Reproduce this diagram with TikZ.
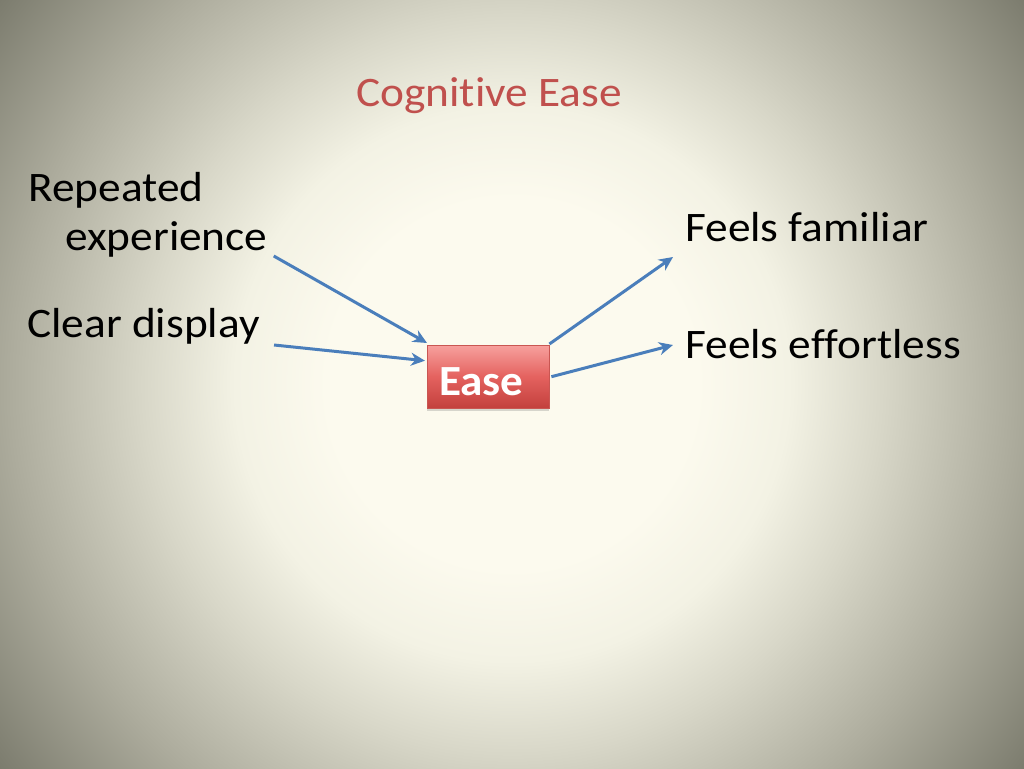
\documentclass[tikz,border=0pt]{standalone}
\usepackage{fontspec}
\setmainfont[Ligatures=NoCommon]{Carlito}
\usetikzlibrary{arrows.meta,calc,shadows}
\definecolor{bgc}{HTML}{FCFAEE}
\definecolor{bgb}{HTML}{F3F2E4}
\definecolor{bgm}{HTML}{D8D7C8}
\definecolor{bgn}{HTML}{ADAC9D}
\definecolor{bge}{HTML}{7C7C6E}
\definecolor{titlered}{HTML}{C0504D}
\definecolor{arrowblue}{HTML}{4A7EBB}
\definecolor{boxtop}{HTML}{F7A09D}
\definecolor{boxmid}{HTML}{E4625F}
\definecolor{boxbot}{HTML}{C3403D}
\definecolor{boxline}{HTML}{C95652}
\pgfdeclareradialshading{bgshade}{\pgfpoint{0bp}{0bp}}{%
  color(0bp)=(bgc); color(14bp)=(bgc); color(21bp)=(bgb);
  color(28bp)=(bgm); color(38bp)=(bgn); color(48.5bp)=(bge); color(50bp)=(bge)}
\newcommand\bigtxt{\fontsize{42}{50}\selectfont}
\tikzset{
  lbl/.style={anchor=base west, inner sep=0pt, font=\bigtxt, text=black, xscale=1.08},
  ttl/.style={anchor=base, inner sep=0pt, font=\bigtxt, text=titlered, xscale=1.08},
  easebox/.style={anchor=north west, draw=boxline, line width=0.4pt,
    top color=boxtop, bottom color=boxbot, middle color=boxmid,
    minimum width=122pt, minimum height=63pt,
    drop shadow={shadow xshift=0pt, shadow yshift=-3pt, opacity=0.3}},
  easetxt/.style={anchor=base west, inner sep=0pt, font=\fontsize{43}{50}\selectfont\bfseries,
    text=white, xscale=1.05},
  conn/.style={draw=arrowblue, line width=3pt,
    -{Stealth[length=14pt, width=13pt, inset=4.5pt]}}
}
\begin{document}
\begin{tikzpicture}[x=1pt, y=-1pt]
  \useasboundingbox (0,0) rectangle (1024,768);
  \begin{scope}
    \clip (0,0) rectangle (1024,768);
    \node[inner sep=0pt, scale=13.15] (bg) at (512,384) {\pgfuseshading{bgshade}};
  \end{scope}
  \node[ttl] (title) at (489,106) {Cognitive Ease};
  \node[lbl] (rep) at (28,201) {Repeated};
  \node[lbl] (exp) at (65,250) {experience};
  \node[lbl] (clear) at (27,337) {Clear display};
  \node[lbl] (fam) at (685,241) {Feels familiar};
  \node[lbl] (eff) at (685,358) {Feels effortless};
  \node[easebox] (ease) at (427,345) {};
  \node[easetxt] (easelbl) at ($(ease.north west)+(12,50)$) {Ease};
  \draw[conn] ($(exp.base east)+(6,6)$) -- ($(ease.north west)+(0,-2)$);
  \draw[conn] ($(clear.base east)+(14,8)$) -- ($(ease.west)+(-2,-16)$);
  \draw[conn] ($(ease.north east)+(0,-1)$) -- ($(fam.base west)+(-12,16)$);
  \draw[conn] ($(ease.east)+(2,0)$) -- ($(eff.base west)+(-12,-13)$);
\end{tikzpicture}
\end{document}
